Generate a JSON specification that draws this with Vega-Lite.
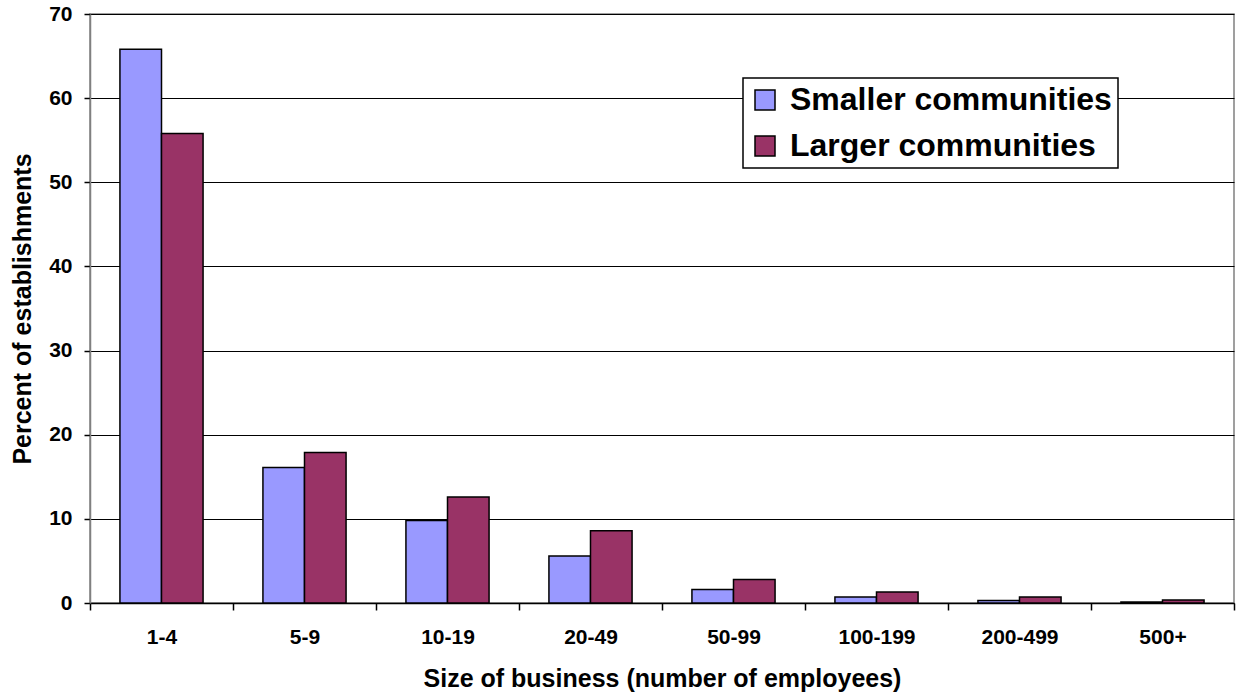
{
  "$schema": "https://vega.github.io/schema/vega-lite/v6.json",
  "autosize": {"type": "none"},
  "width": 1144,
  "height": 589,
  "padding": {"left": 90, "top": 14, "right": 3, "bottom": 89},
  "background": "white",
  "config": {
    "font": "Liberation Sans",
    "view": {"stroke": "#808080", "strokeWidth": 1.5}
  },
  "data": {
    "values": [
      {"size": "1-4", "group": "Smaller communities", "pct": 65.8},
      {"size": "1-4", "group": "Larger communities", "pct": 55.8},
      {"size": "5-9", "group": "Smaller communities", "pct": 16.1},
      {"size": "5-9", "group": "Larger communities", "pct": 17.9},
      {"size": "10-19", "group": "Smaller communities", "pct": 9.8},
      {"size": "10-19", "group": "Larger communities", "pct": 12.6},
      {"size": "20-49", "group": "Smaller communities", "pct": 5.6},
      {"size": "20-49", "group": "Larger communities", "pct": 8.6},
      {"size": "50-99", "group": "Smaller communities", "pct": 1.6},
      {"size": "50-99", "group": "Larger communities", "pct": 2.8},
      {"size": "100-199", "group": "Smaller communities", "pct": 0.7},
      {"size": "100-199", "group": "Larger communities", "pct": 1.3},
      {"size": "200-499", "group": "Smaller communities", "pct": 0.3},
      {"size": "200-499", "group": "Larger communities", "pct": 0.7},
      {"size": "500+", "group": "Smaller communities", "pct": 0.12},
      {"size": "500+", "group": "Larger communities", "pct": 0.35}
    ]
  },
  "mark": {"type": "bar", "stroke": "black", "strokeWidth": 1.5},
  "encoding": {
    "x": {
      "field": "size",
      "type": "nominal",
      "sort": ["1-4", "5-9", "10-19", "20-49", "50-99", "100-199", "200-499", "500+"],
      "scale": {"paddingInner": 0, "paddingOuter": 0},
      "axis": {
        "title": "Size of business (number of employees)",
        "titleFontSize": 25,
        "titleFontWeight": "bold",
        "titleColor": "black",
        "titlePadding": 19,
        "labelFontSize": 21,
        "labelFontWeight": "bold",
        "labelColor": "black",
        "labelAngle": 0,
        "labelPadding": 16,
        "tickBand": "extent",
        "tickSize": 7,
        "tickColor": "black",
        "tickWidth": 1.5,
        "domainColor": "black",
        "domainWidth": 1.5,
        "grid": false
      }
    },
    "xOffset": {
      "field": "group",
      "type": "nominal",
      "sort": ["Smaller communities", "Larger communities"],
      "scale": {"paddingInner": 0, "paddingOuter": 0.72}
    },
    "y": {
      "field": "pct",
      "type": "quantitative",
      "scale": {"domain": [0, 70], "nice": false},
      "axis": {
        "title": "Percent of establishments",
        "titleFontSize": 25,
        "titleFontWeight": "bold",
        "titleColor": "black",
        "titlePadding": 13,
        "labelFontSize": 21,
        "labelFontWeight": "bold",
        "labelColor": "black",
        "labelPadding": 12,
        "values": [0, 10, 20, 30, 40, 50, 60, 70],
        "tickSize": 6,
        "tickColor": "black",
        "tickWidth": 1.5,
        "domainColor": "#808080",
        "domainWidth": 1.5,
        "grid": true,
        "gridColor": "black",
        "gridWidth": 1.2
      }
    },
    "color": {
      "field": "group",
      "type": "nominal",
      "sort": ["Smaller communities", "Larger communities"],
      "scale": {"domain": ["Smaller communities", "Larger communities"], "range": ["#9999FF", "#993366"]},
      "legend": {
        "title": null,
        "orient": "none",
        "legendX": 653,
        "legendY": 64,
        "labelFontSize": 32,
        "labelFontWeight": "bold",
        "labelColor": "black",
        "labelLimit": 500,
        "labelOffset": 9,
        "symbolType": "square",
        "symbolSize": 400,
        "symbolStrokeColor": "black",
        "symbolStrokeWidth": 1.5,
        "symbolOpacity": 1,
        "rowPadding": 14,
        "padding": 6,
        "strokeColor": "black",
        "fillColor": "white",
        "encode": {"legend": {"update": {"strokeWidth": {"value": 1.5}}}}
      }
    }
  }
}
